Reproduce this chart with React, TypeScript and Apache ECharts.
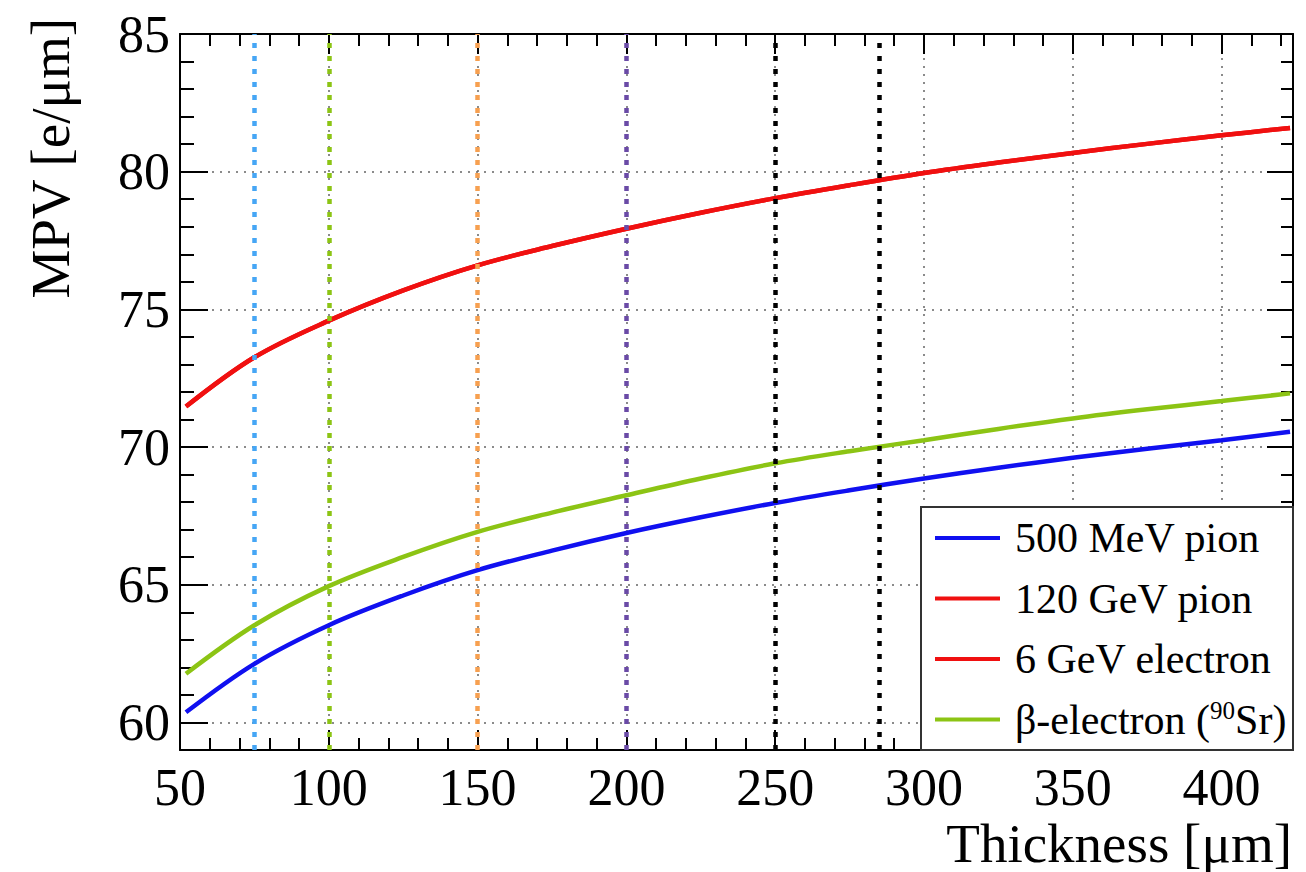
import React, { useEffect, useRef } from "react";
import * as echarts from "echarts";

// ---- data ----
const thickness = [52, 75, 100, 125, 150, 175, 200, 225, 250, 275, 300, 325, 350, 375, 400, 423];
const mpvPion500MeV = [60.37, 62.13, 63.53, 64.61, 65.53, 66.24, 66.88, 67.45, 67.97, 68.43, 68.86, 69.25, 69.61, 69.94, 70.25, 70.56];
const mpvPion120GeV = [71.47, 73.26, 74.59, 75.69, 76.6, 77.3, 77.93, 78.51, 79.04, 79.51, 79.95, 80.33, 80.68, 81.01, 81.32, 81.59];
const mpvElectron6GeV = [71.47, 73.26, 74.59, 75.69, 76.6, 77.3, 77.93, 78.51, 79.04, 79.51, 79.95, 80.33, 80.68, 81.01, 81.32, 81.59];
const mpvBetaSr90 = [61.77, 63.53, 64.95, 66.01, 66.92, 67.62, 68.25, 68.86, 69.41, 69.85, 70.25, 70.66, 71.04, 71.37, 71.67, 71.95];

const seriesNames = ["500 MeV pion", "120 GeV pion", "6 GeV electron", "β-electron (90Sr)"];
const seriesColors = ["#1010f0", "#f01010", "#f01010", "#8cc414"];

const markerThickness = [75, 100, 150, 200, 250, 285];
const markerColors = ["#46a6f5", "#8cc414", "#f7a050", "#6a4aa6", "#000000", "#000000"];

const xTickValues = [50, 100, 150, 200, 250, 300, 350, 400];
const yTickValues = [60, 65, 70, 75, 80, 85];

const X_TITLE = "Thickness [μm]";
const Y_TITLE = "MPV [e/μm]";

const X_MIN = 50;
const X_MAX = 424;
const Y_MIN = 59;
const Y_MAX = 85;

const FONT = "'Liberation Serif', 'Times New Roman', serif";

export default function App() {
  const ref = useRef<HTMLDivElement>(null);

  useEffect(() => {
    if (!ref.current) return;
    const chart = echarts.init(ref.current, null, { renderer: "svg" });

    const mk = (vals: number[]) => thickness.map((t, i) => [t, vals[i]]);
    const seriesData = [mpvPion500MeV, mpvPion120GeV, mpvElectron6GeV, mpvBetaSr90];

    const axisLine = { show: true, lineStyle: { color: "#000", width: 2 } };
    const gridLine = { show: true, lineStyle: { color: "#666", width: 1.5, type: [2, 6] as any } };

    const xAxes: any[] = [
      {
        type: "value", position: "bottom", min: X_MIN, max: X_MAX, interval: 50,
        axisLine,
        axisTick: { show: true, inside: true, length: 20, lineStyle: { color: "#000", width: 2 }, customValues: xTickValues.slice(1) },
        axisLabel: { show: true, customValues: xTickValues, color: "#000", fontFamily: FONT, fontSize: 52, lineHeight: 46, margin: 14 },
        splitLine: gridLine,
      },
      {
        type: "value", position: "bottom", min: X_MIN, max: X_MAX, interval: 10,
        axisLine: { show: false },
        axisTick: { show: true, inside: true, length: 12, lineStyle: { color: "#000", width: 2 } },
        axisLabel: { show: false }, splitLine: { show: false },
      },
      {
        type: "value", position: "top", min: X_MIN, max: X_MAX, interval: 50,
        axisLine,
        axisTick: { show: true, inside: true, length: 20, lineStyle: { color: "#000", width: 2 }, customValues: xTickValues.slice(1) },
        axisLabel: { show: false }, splitLine: { show: false },
      },
      {
        type: "value", position: "top", min: X_MIN, max: X_MAX, interval: 10,
        axisLine: { show: false },
        axisTick: { show: true, inside: true, length: 12, lineStyle: { color: "#000", width: 2 } },
        axisLabel: { show: false }, splitLine: { show: false },
      },
    ];

    const yAxes: any[] = [
      {
        type: "value", position: "left", min: Y_MIN, max: Y_MAX, interval: 1,
        axisLine,
        axisTick: { show: true, inside: true, length: 28, lineStyle: { color: "#000", width: 2 }, customValues: yTickValues },
        axisLabel: { show: true, customValues: yTickValues, color: "#000", fontFamily: FONT, fontSize: 52, margin: 10 },
        splitLine: gridLine,
        name: Y_TITLE,
        nameLocation: "end",
        nameGap: 16,
        nameRotate: 90,
        nameTextStyle: { color: "#000", fontFamily: FONT, fontSize: 55, align: "right", verticalAlign: "bottom", padding: [0, 0, 102, 0] },
      },
      {
        type: "value", position: "left", min: Y_MIN, max: Y_MAX, interval: 1,
        axisLine: { show: false },
        axisTick: { show: true, inside: true, length: 14, lineStyle: { color: "#000", width: 2 } },
        axisLabel: { show: false }, splitLine: { show: false },
      },
      {
        type: "value", position: "right", min: Y_MIN, max: Y_MAX, interval: 1,
        axisLine,
        axisTick: { show: true, inside: true, length: 26, lineStyle: { color: "#000", width: 2 }, customValues: yTickValues },
        axisLabel: { show: false }, splitLine: { show: false },
      },
      {
        type: "value", position: "right", min: Y_MIN, max: Y_MAX, interval: 1,
        axisLine: { show: false },
        axisTick: { show: true, inside: true, length: 12, lineStyle: { color: "#000", width: 2 } },
        axisLabel: { show: false }, splitLine: { show: false },
      },
    ];

    const series: any[] = seriesNames.map((name, i) => ({
      name,
      type: "line",
      xAxisIndex: 0,
      yAxisIndex: 0,
      data: mk(seriesData[i]),
      smooth: 0.35,
      symbol: "none",
      lineStyle: { color: seriesColors[i], width: 4.5 },
      itemStyle: { color: seriesColors[i] },
      z: 2,
      markLine:
        i === 0
          ? {
              silent: true,
              symbol: ["none", "none"],
              label: { show: false },
              z: 3,
              data: markerThickness.map((x, k) => ({
                xAxis: x,
                lineStyle: { color: markerColors[k], width: 4.5, type: [5, 8] },
              })),
            }
          : undefined,
    }));

    chart.setOption({
      animation: false,
      backgroundColor: "#fff",
      grid: { left: 180, right: 13, top: 34, bottom: 122, containLabel: false, outerBoundsMode: "none" },
      xAxis: xAxes,
      yAxis: yAxes,
      series,
      graphic: [
        {
          type: "rect",
          z: 3,
          shape: { x: 921, y: 507, width: 372, height: 243 },
          style: { fill: "#fff", stroke: "#333", lineWidth: 2 },
        },
        {
          type: "text",
          z: 3,
          x: 1292,
          y: 843,
          style: {
            text: X_TITLE,
            fill: "#000",
            font: `55px ${FONT}`,
            lineHeight: 52,
            textAlign: "right",
            textVerticalAlign: "middle",
          },
        },
      ],
      legend: {
        show: true,
        orient: "vertical",
        left: 935,
        top: 516,
        padding: 0,
        itemGap: 16.5,
        itemWidth: 65,
        itemHeight: 4,
        icon: "rect",
        selectedMode: false,
        z: 5,
        data: seriesNames,
        formatter: (name: string) =>
          name === "β-electron (90Sr)" ? "β-electron ({sup|90}Sr)" : name,
        textStyle: {
          color: "#000",
          fontFamily: FONT,
          fontSize: 42,
          lineHeight: 44,
          padding: [0, 0, 0, 10],
          rich: {
            sup: { fontFamily: FONT, fontSize: 25, lineHeight: 25, verticalAlign: "top", color: "#000" },
          },
        },
      },
    });

    return () => chart.dispose();
  }, []);

  return (
    <div
      ref={ref}
      style={{ position: "fixed", left: 0, top: 0, width: 1306, height: 872, background: "#fff" }}
    />
  );
}
